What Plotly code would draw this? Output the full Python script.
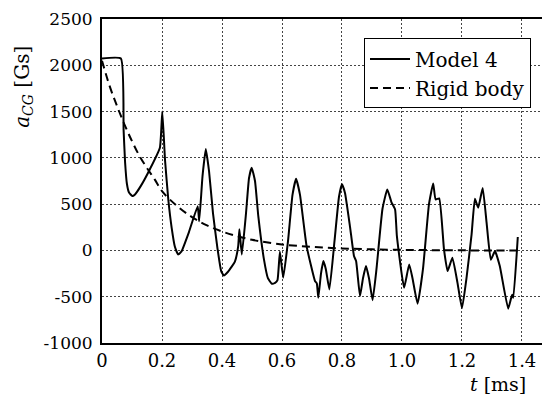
import plotly.graph_objects as go

# Model 4
t_model = [0, 0.063, 0.072, 0.077, 0.083, 0.09, 0.101, 0.11, 0.13, 0.16, 0.193, 0.201, 0.21, 0.221,
           0.232, 0.243, 0.254, 0.265, 0.29, 0.319, 0.324, 0.335, 0.346, 0.357, 0.37, 0.385, 0.397,
           0.406, 0.42, 0.443, 0.454, 0.458, 0.466, 0.48, 0.49, 0.499, 0.51, 0.521, 0.54, 0.553,
           0.566, 0.577, 0.585, 0.593, 0.604, 0.62, 0.635, 0.647, 0.66, 0.682, 0.71, 0.716, 0.721,
           0.73, 0.738, 0.746, 0.758, 0.775, 0.79, 0.8, 0.81, 0.827, 0.84, 0.847, 0.86, 0.87, 0.88,
           0.89, 0.902, 0.915, 0.935, 0.951, 0.965, 0.977, 0.983, 1.007, 1.024, 1.035, 1.052, 1.07,
           1.09, 1.104, 1.112, 1.124, 1.14, 1.152, 1.168, 1.185, 1.2, 1.215, 1.232, 1.243, 1.254,
           1.269, 1.282, 1.296, 1.31, 1.326, 1.354, 1.367, 1.371, 1.386]
a_model = [2074, 2074, 1300, 950, 720, 625, 587, 605, 700, 880, 1110, 1500, 980, 550,
           250, 40, -43, -10, 200, 478, 316, 800, 1095, 850, 400, 20, -220,
           -270, -230, -120, 46, 230, -45, 400, 780, 893, 750, 370, -100, -300,
           -360, -350, -320, -15, -295, 100, 600, 774, 600, 46, -331, -356, -511,
           -250, -115, -200, -421, 100, 580, 715, 620, 250, -61, -115, -493, -300, -169,
           -300, -537, -200, 450, 659, 520, 443, 154, -403, -151, -300, -576, -200,
           500, 724, 551, 562, 11, -223, -79, -350, -625, -300, 173, 558, 461,
           675, 300, -100, -7, -169, -630, -480, -511, 145]

# Rigid body
t_rigid = [0, 0.025, 0.05, 0.075, 0.1, 0.125, 0.15, 0.175, 0.2, 0.25, 0.3, 0.35, 0.4, 0.45,
           0.5, 0.6, 0.7, 0.8, 0.9, 1.0, 1.1, 1.2, 1.3, 1.385]
a_rigid = [2050, 1780, 1560, 1360, 1180, 1020, 890, 770, 640, 480, 360, 270, 205, 155,
           115, 65, 38, 22, 12, 6, 3, 1, 0, 0]

x_ticks = [0, 0.2, 0.4, 0.6, 0.8, 1.0, 1.2, 1.4]
x_ticktext = ["0", "0.2", "0.4", "0.6", "0.8", "1.0", "1.2", "1.4"]
y_ticks = [-1000, -500, 0, 500, 1000, 1500, 2000, 2500]
y_ticktext = ["-1000", "-500", "0", "500", "1000", "1500", "2000", "2500"]

FONT = "DejaVu Serif"

fig = go.Figure()
fig.add_trace(go.Scatter(x=t_model, y=a_model, mode="lines", name="Model 4",
                         line=dict(color="black", width=2, shape="spline", smoothing=0.4)))
fig.add_trace(go.Scatter(x=t_rigid, y=a_rigid, mode="lines", name="Rigid body",
                         line=dict(color="black", width=2, dash="8px,5px", shape="spline")))

fig.update_layout(
    width=542, height=400,
    margin=dict(l=102, r=0, t=19, b=57),
    paper_bgcolor="white", plot_bgcolor="white",
    font=dict(family=FONT, size=17, color="black"),
    showlegend=True,
    legend=dict(x=0.975, y=0.94, xanchor="right", yanchor="top",
                bgcolor="white", bordercolor="black", borderwidth=1,
                font=dict(family=FONT, size=20), tracegroupgap=0, itemwidth=40),
    xaxis=dict(range=[0, 1.4667], tickvals=x_ticks, ticktext=x_ticktext,
               tickfont=dict(family=FONT, size=18),
               showgrid=True, gridcolor="#444", gridwidth=1, griddash="2px,2px",
               showline=True, linecolor="black", linewidth=2, mirror=True,
               zeroline=False, ticks="", ticklabelstandoff=0),
    yaxis=dict(range=[-1000, 2500], tickvals=y_ticks, ticktext=y_ticktext,
               tickfont=dict(family=FONT, size=17),
               showgrid=True, gridcolor="#444", gridwidth=1, griddash="2px,2px",
               showline=True, linecolor="black", linewidth=2,
               zeroline=False, ticks="", ticklabelstandoff=4),
    annotations=[
        dict(text="<i>t</i> [ms]", xref="paper", yref="paper", x=0.968, y=-0.128,
             xanchor="right", yanchor="middle", showarrow=False,
             font=dict(family=FONT, size=19)),
        dict(text="<i>a</i><sub><i>CG</i></sub> [Gs]", xref="paper", yref="paper",
             x=-0.18, y=0.79, xanchor="center", yanchor="middle", textangle=-90,
             showarrow=False, font=dict(family=FONT, size=20)),
    ],
)

fig.write_html("out.html")
